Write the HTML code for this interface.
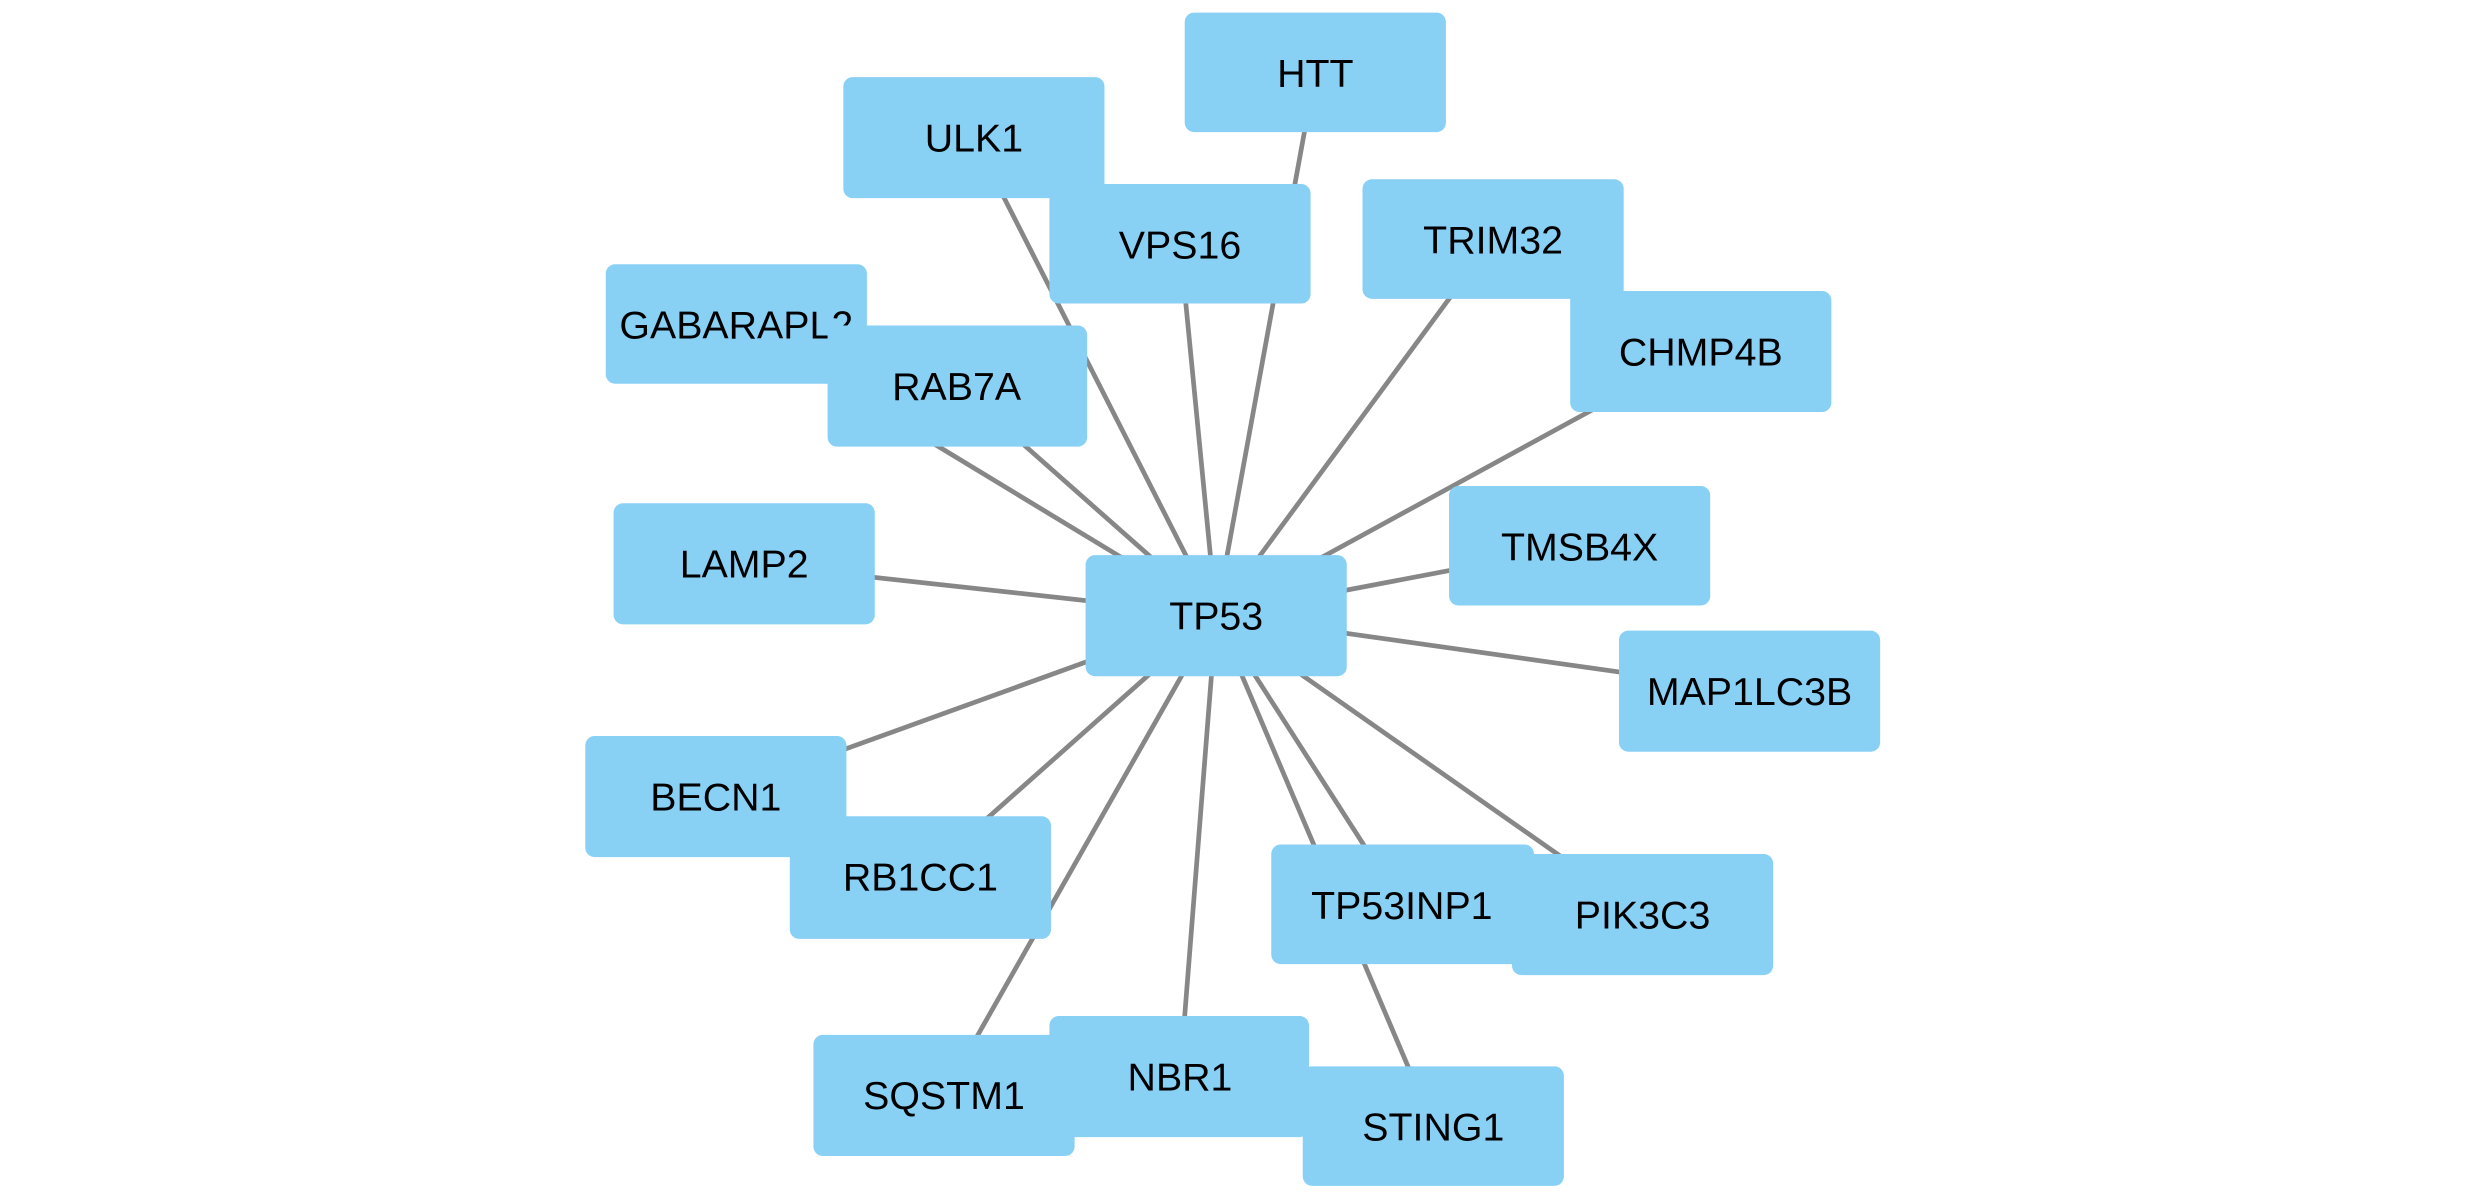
<!DOCTYPE html>
<html><head><meta charset="utf-8"><style>
html,body{margin:0;padding:0;background:#fff;}
svg{display:block;}
text{font-family:"Liberation Sans",sans-serif;font-size:25px;fill:#000;text-anchor:middle;dominant-baseline:central;}
</style></head><body>
<svg width="2467" height="1200" viewBox="0 0 1568 763" preserveAspectRatio="none" xmlns="http://www.w3.org/2000/svg">
<g stroke="#878787" stroke-width="3">
<line x1="773" y1="391" x2="836" y2="46"/>
<line x1="773" y1="391" x2="619" y2="88"/>
<line x1="773" y1="391" x2="750" y2="155"/>
<line x1="773" y1="391" x2="949" y2="152"/>
<line x1="773" y1="391" x2="468" y2="206"/>
<line x1="773" y1="391" x2="608" y2="245"/>
<line x1="773" y1="391" x2="1081" y2="223"/>
<line x1="773" y1="391" x2="473" y2="358"/>
<line x1="773" y1="391" x2="1004" y2="347"/>
<line x1="773" y1="391" x2="1112" y2="439"/>
<line x1="773" y1="391" x2="455" y2="506"/>
<line x1="773" y1="391" x2="585" y2="558"/>
<line x1="773" y1="391" x2="891" y2="575"/>
<line x1="773" y1="391" x2="1044" y2="581"/>
<line x1="773" y1="391" x2="600" y2="696"/>
<line x1="773" y1="391" x2="750" y2="684"/>
<line x1="773" y1="391" x2="911" y2="716"/>
</g>
<g fill="#89D0F5">
<rect x="753" y="8" width="166" height="76" rx="6"/><text x="836" y="47">HTT</text>
<rect x="536" y="49" width="166" height="77" rx="6"/><text x="619" y="88">ULK1</text>
<rect x="667" y="117" width="166" height="76" rx="6"/><text x="750" y="156">VPS16</text>
<rect x="866" y="114" width="166" height="76" rx="6"/><text x="949" y="153">TRIM32</text>
<rect x="385" y="168" width="166" height="76" rx="6"/><text x="468" y="207">GABARAPL2</text>
<rect x="526" y="207" width="165" height="77" rx="6"/><text x="608" y="246">RAB7A</text>
<rect x="998" y="185" width="166" height="77" rx="6"/><text x="1081" y="224">CHMP4B</text>
<rect x="390" y="320" width="166" height="77" rx="6"/><text x="473" y="359">LAMP2</text>
<rect x="921" y="309" width="166" height="76" rx="6"/><text x="1004" y="348">TMSB4X</text>
<rect x="1029" y="401" width="166" height="77" rx="6"/><text x="1112" y="440">MAP1LC3B</text>
<rect x="690" y="353" width="166" height="77" rx="6"/><text x="773" y="392">TP53</text>
<rect x="372" y="468" width="166" height="77" rx="6"/><text x="455" y="507">BECN1</text>
<rect x="502" y="519" width="166" height="78" rx="6"/><text x="585" y="558">RB1CC1</text>
<rect x="961" y="543" width="166" height="77" rx="6"/><text x="1044" y="582">PIK3C3</text>
<rect x="808" y="537" width="167" height="76" rx="6"/><text x="891" y="576">TP53INP1</text>
<rect x="667" y="646" width="165" height="77" rx="6"/><text x="750" y="685">NBR1</text>
<rect x="517" y="658" width="166" height="77" rx="6"/><text x="600" y="697">SQSTM1</text>
<rect x="828" y="678" width="166" height="76" rx="6"/><text x="911" y="717">STING1</text>
</g>
</svg>
</body></html>
